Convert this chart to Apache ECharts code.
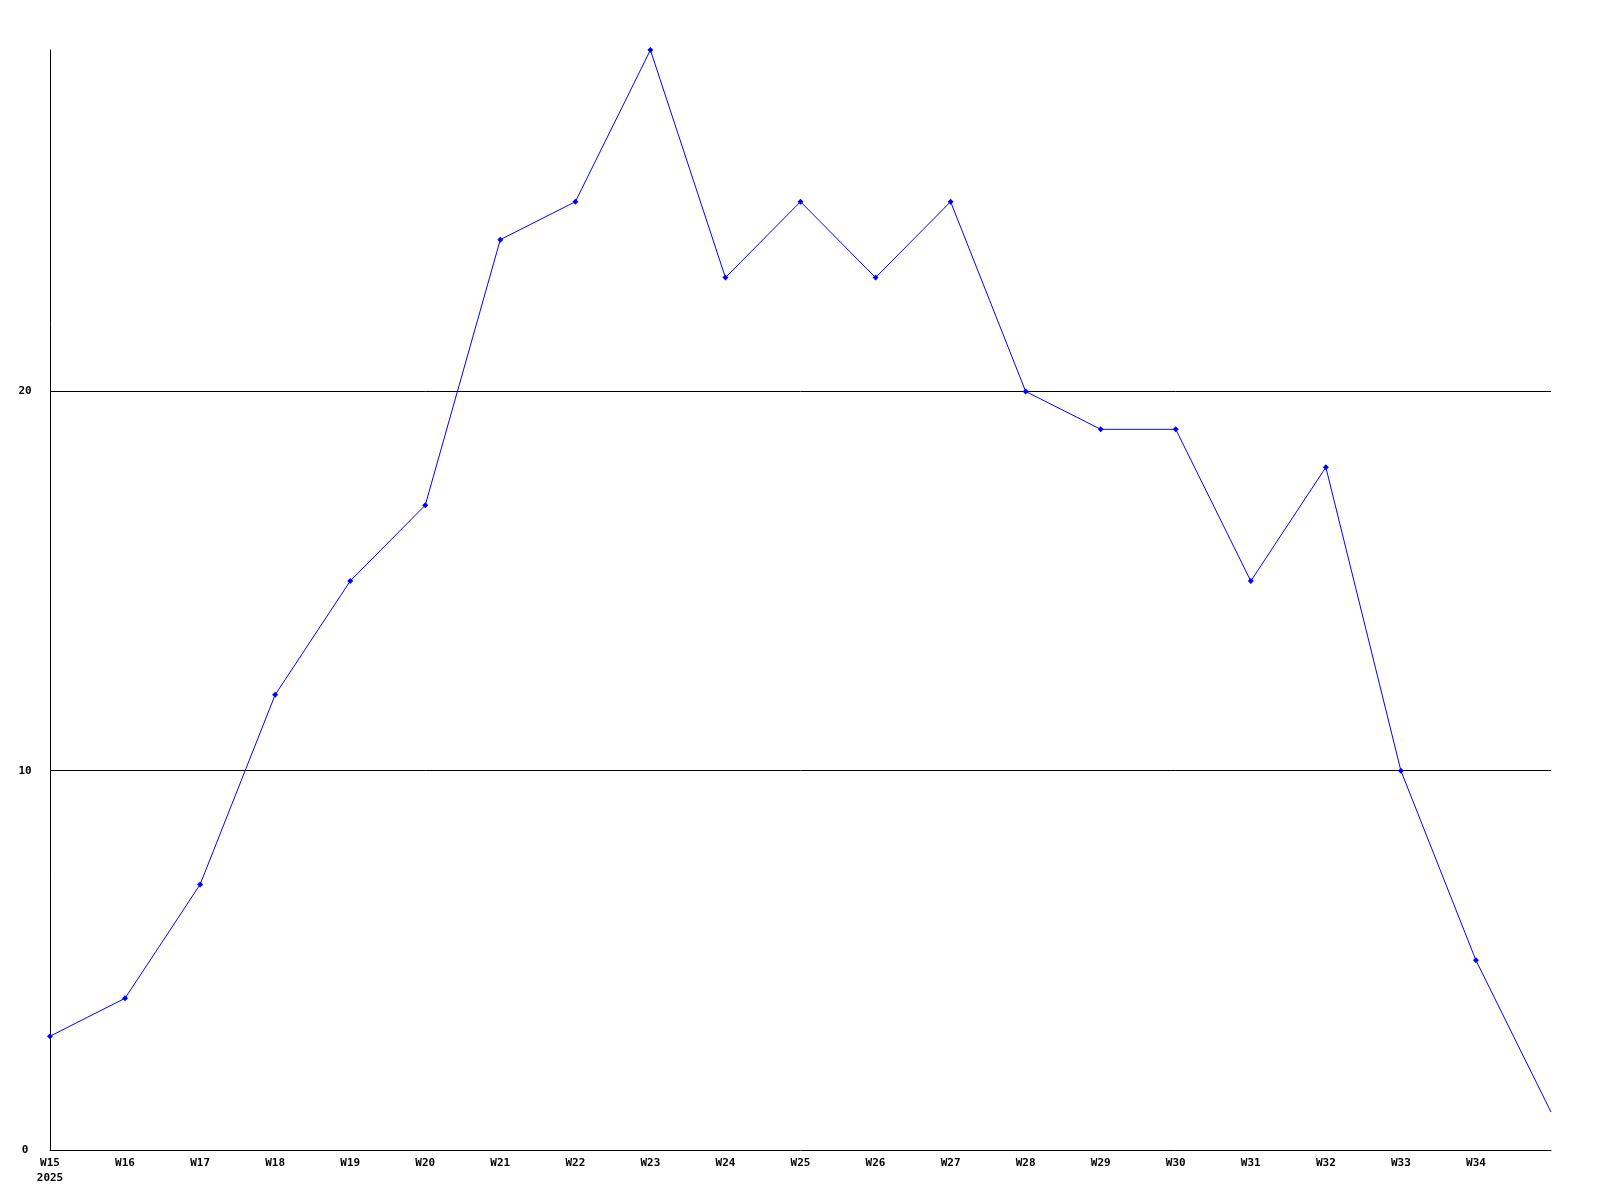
<!DOCTYPE html>
<html><head><meta charset="utf-8">
<script src="https://cdn.jsdelivr.net/npm/echarts@6/dist/echarts.min.js"></script>
<style>html,body{margin:0;padding:0;background:#fff}#c{width:1600px;height:1200px}</style>
</head><body><div id="c"></div>
<script>
const categories = ['W15','W16','W17','W18','W19','W20','W21','W22','W23','W24','W25','W26','W27','W28','W29','W30','W31','W32','W33','W34','W35'];
const values = [3,4,7,12,15,17,24,25,29,23,25,23,25,20,19,19,15,18,10,5,1];
const yearLabel = '2025';

const chart = echarts.init(document.getElementById('c'));
const font = {fontFamily:'"DejaVu Sans Mono", monospace', fontWeight:'bold', fontSize:11, color:'#000'};
chart.setOption({
  animation:false,
  backgroundColor:'#fff',
  grid:{left:50, right:49, top:50, bottom:50},
  xAxis:{
    type:'category', data:categories, boundaryGap:false,
    axisLine:{show:true, lineStyle:{color:'#000', width:1}},
    axisTick:{show:false},
    splitLine:{show:false},
    axisLabel:Object.assign({}, font, {
      margin:6, interval:0, showMaxLabel:false, lineHeight:15,
      formatter:(v,i)=> i===0 ? v+'\n'+yearLabel : (i===categories.length-1 ? '' : v)
    })
  },
  yAxis:{
    type:'value', min:0, max:29, interval:10,
    axisLine:{show:true, lineStyle:{color:'#000', width:1}},
    axisTick:{show:false},
    splitLine:{show:true, showMaxLine:false, showMinLine:false, lineStyle:{color:'#000', width:1}},
    axisLabel:Object.assign({}, font, {margin:25, align:'center', showMaxLabel:false,
      formatter:v=> (v%10===0 ? String(v) : '')})
  },
  series:[{
    type:'line', data:values.map((v,i)=> i===values.length-1 ? {value:v, symbol:'none'} : v),
    symbol:'diamond', symbolSize:6, showAllSymbol:true,
    lineStyle:{color:'#0000ff', width:1},
    itemStyle:{color:'#0000ff'}
  }]
});
</script></body></html>
